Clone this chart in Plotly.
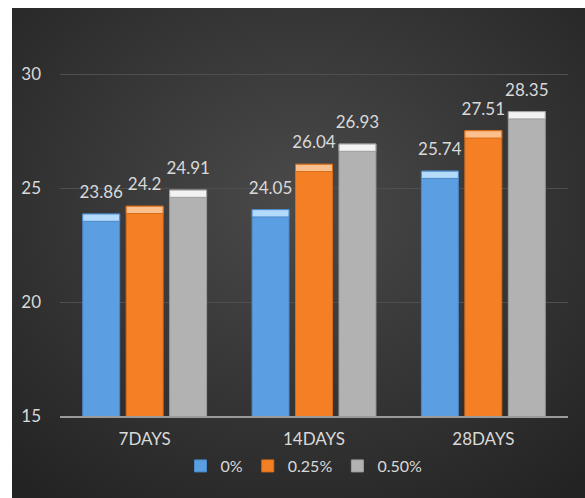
import base64
import plotly.graph_objects as go

categories = ["7DAYS", "14DAYS", "28DAYS"]
series_names = ["0%", "0.25%", "0.50%"]
values_0 = [23.86, 24.05, 25.74]
values_025 = [24.2, 26.04, 27.51]
values_050 = [24.91, 26.93, 28.35]
labels_0 = ["23.86", "24.05", "25.74"]
labels_025 = ["24.2", "26.04", "27.51"]
labels_050 = ["24.91", "26.93", "28.35"]

series_values = [values_0, values_025, values_050]
series_labels = [labels_0, labels_025, labels_050]
main_colors = ["#5b9fe2", "#f57f24", "#b2b2b2"]
edge_colors = ["#4a88c8", "#d86c18", "#9c9c9c"]
cap_colors = ["#b5dbfa", "#fcc08f", "#f2f2f2"]
cap_depth = 0.32
label_pad = 0.4

W, H = 585, 498
ml, mr, mt, mb = 60, 17, 17, 82
pw, ph = W - ml - mr, H - mt - mb

fig = go.Figure()
for i, (name, vals, labs) in enumerate(zip(series_names, series_values, series_labels)):
    fig.add_trace(go.Bar(
        x=categories, y=vals, name=name, offsetgroup=str(i),
        marker=dict(color=main_colors[i], line=dict(color=edge_colors[i], width=1)),
        hoverinfo="skip",
    ))
    fig.add_trace(go.Bar(
        x=categories, y=[cap_depth] * len(vals), base=[v - cap_depth for v in vals],
        offsetgroup=str(i), showlegend=False,
        marker=dict(color=cap_colors[i], line=dict(color=edge_colors[i], width=1)),
        hoverinfo="skip",
    ))
    # transparent spacer carrying the value labels slightly above the bar
    fig.add_trace(go.Bar(
        x=categories, y=[label_pad] * len(vals), base=vals,
        offsetgroup=str(i), showlegend=False,
        marker=dict(color="rgba(0,0,0,0)", line=dict(width=0)),
        text=labs, textposition="outside", cliponaxis=False, constraintext="none",
        textfont=dict(color="#d9d9d9", size=17, family="Lato, sans-serif"),
        hoverinfo="skip",
    ))

svg = (
    '<svg xmlns="http://www.w3.org/2000/svg" width="573" height="490" viewBox="0 0 573 490" preserveAspectRatio="none">'
    '<defs><radialGradient id="g" cx="50%" cy="40%" r="75%">'
    '<stop offset="0%" stop-color="#4a4a4a"/><stop offset="100%" stop-color="#232323"/>'
    '</radialGradient></defs><rect width="573" height="490" fill="url(#g)"/></svg>'
)
src = "data:image/svg+xml;base64," + base64.b64encode(svg.encode()).decode()

bx0, by0 = 12, 8
fig.add_layout_image(dict(
    source=src, xref="paper", yref="paper",
    x=(bx0 - ml) / pw, y=(H - mb - by0) / ph,
    sizex=(W - bx0) / pw, sizey=(H - by0) / ph,
    sizing="stretch", xanchor="left", yanchor="top", layer="below",
))

fig.update_layout(
    width=W, height=H,
    margin=dict(l=ml, r=mr, t=mt, b=mb),
    paper_bgcolor="white", plot_bgcolor="rgba(0,0,0,0)",
    barmode="group", bargap=0.23, bargroupgap=0.15,
    font=dict(family="Lato, sans-serif", color="#d9d9d9", size=16),
    showlegend=True,
    legend=dict(orientation="h", xanchor="center", yanchor="middle",
                x=(304 - ml) / pw, y=(H - mb - 466) / ph,
                font=dict(size=16, color="#d9d9d9"), bgcolor="rgba(0,0,0,0)",
                itemwidth=30, traceorder="normal", entrywidth=0),
    xaxis=dict(showline=True, linecolor="#9a9a9a", linewidth=2, showgrid=False,
               ticks="", tickfont=dict(size=17, color="#d9d9d9"), ticklabelstandoff=7),
    yaxis=dict(range=[15, 32.5], tickvals=[15, 20, 25, 30], showgrid=True,
               gridcolor="#4f4f4f", gridwidth=1, zeroline=False, showline=False,
               tickfont=dict(size=17, color="#d9d9d9"), ticklabelstandoff=18),
)

fig.write_html("out.html")
